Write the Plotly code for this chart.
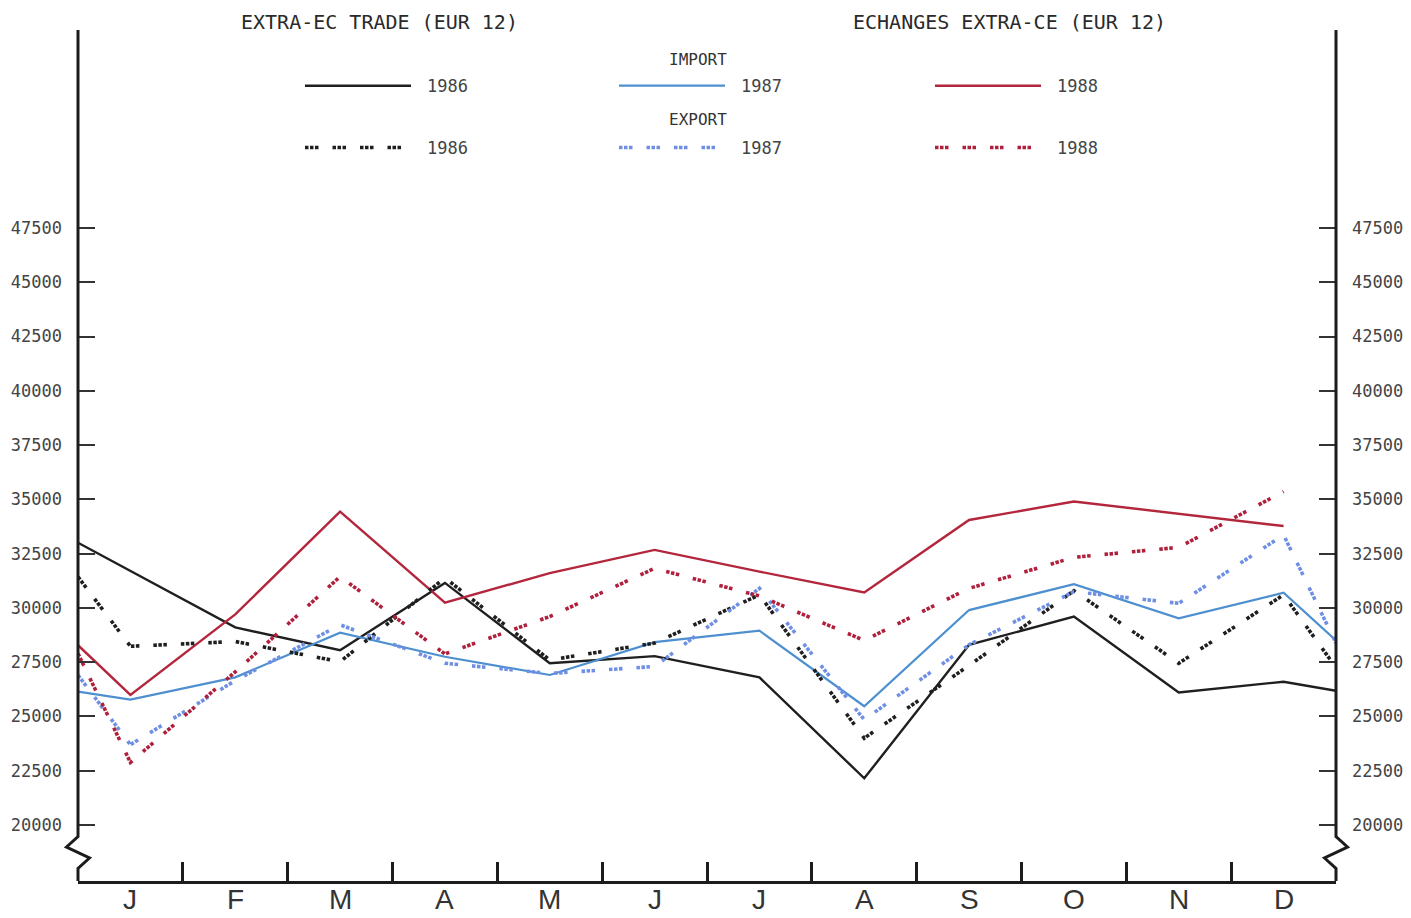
import plotly.graph_objects as go

# ---------------- data ----------------
months = ["J", "F", "M", "A", "M", "J", "J", "A", "S", "O", "N", "D"]
y_ticks = [20000, 22500, 25000, 27500, 30000, 32500, 35000, 37500, 40000, 42500, 45000, 47500]

import_1986 = [31700, 29100, 28050, 31150, 27450, 27780, 26800, 22150, 28300, 29600, 26100, 26600]
import_1986_edges = [33000, 26180]
import_1987 = [25780, 26800, 28860, 27750, 26910, 28420, 28950, 25470, 29900, 31090, 29520, 30700]
import_1987_edges = [26140, 28500]
import_1988 = [25990, 29700, 34430, 30240, 31600, 32670, 31670, 30710, 34050, 34900, 34320, 33770]
import_1988_edges = [28280, None]

export_1986 = [28230, 28450, 27520, 31380, 27600, 28380, 30600, 24000, 27350, 30790, 27450, 30600]
export_1986_edges = [31430, 27250]
export_1987 = [23700, 26650, 29220, 27450, 26980, 27300, 30900, 24850, 28300, 30750, 30210, 33360]
export_1987_edges = [26900, 28380]
export_1988 = [22880, 27050, 31440, 27880, 29600, 31820, 30550, 28500, 30900, 32330, 32790, 35360]
export_1988_edges = [27900, None]

titles = ["EXTRA-EC TRADE (EUR 12)", "ECHANGES EXTRA-CE (EUR 12)"]
group_titles = ["IMPORT", "EXPORT"]
years = ["1986", "1987", "1988"]

# ---------------- styling ----------------
W, H = 1411, 918
PL, PR, PT, PB = 78, 1336, 30, 881          # plot area in pixels
Y0, Y1 = 17420.6, 56617.7                    # y range
MONO = "DejaVu Sans Mono"
AX = "#1c1c1c"
DOT = "3.5px,1.5px,3.5px,1.5px,3.5px,14px"

series = [
    ("IMPORT", 0, import_1986, import_1986_edges, "#1f1f1f", "solid", 2.4),
    ("IMPORT", 1, import_1987, import_1987_edges, "#4d8fcf", "solid", 2.2),
    ("IMPORT", 2, import_1988, import_1988_edges, "#b3263c", "solid", 2.4),
    ("EXPORT", 0, export_1986, export_1986_edges, "#1f1f1f", DOT, 3.6),
    ("EXPORT", 1, export_1987, export_1987_edges, "#6f8fe4", DOT, 3.6),
    ("EXPORT", 2, export_1988, export_1988_edges, "#b01f3c", DOT, 3.6),
]

def pap_x(p):
    return (p - PL) / (PR - PL)

def pap_y(p):
    return (PB - p) / (PB - PT)

fig = go.Figure()

for grp, yi, vals, edges, color, dash, width in series:
    xs = [0] + [i + 0.5 for i in range(len(months))]
    ys = [edges[0]] + list(vals)
    if edges[1] is not None:
        xs.append(len(months))
        ys.append(edges[1])
    fig.add_trace(go.Scatter(
        x=xs, y=ys, mode="lines", name=f"{grp} {years[yi]}",
        line=dict(color=color, width=width, dash=dash), showlegend=False,
        hoverinfo="skip"))

# invisible trace to activate right axis
fig.add_trace(go.Scatter(x=[0], y=[y_ticks[0]], yaxis="y2", mode="markers",
                         marker=dict(opacity=0), showlegend=False, hoverinfo="skip"))

shapes = []
# left & right axis lines with break zigzag (paper coords, so not clipped)
def axis_path(xpx, sgn):
    pts = [
        (xpx, PT),
        (xpx, 836.7),
        (xpx + sgn * 11.5, 847),
        (xpx - sgn * 11.5, 858),
        (xpx, 868.5),
        (xpx, PB),
    ]
    return "M " + " L ".join(f"{pap_x(a)},{pap_y(b)}" for a, b in pts)

shapes.append(dict(type="path", xref="paper", yref="paper", path=axis_path(PL, -1),
                   line=dict(color=AX, width=3)))
shapes.append(dict(type="path", xref="paper", yref="paper", path=axis_path(PR, 1),
                   line=dict(color=AX, width=3)))

annotations = []
# titles
for t, cx in zip(titles, [379, 1009.5]):
    annotations.append(dict(text=t, xref="paper", yref="paper", x=pap_x(cx), y=pap_y(22),
                            showarrow=False, xanchor="center", yanchor="middle",
                            font=dict(family=MONO, size=20, color="#2a2a2a")))

# month labels (centred in each month band, below the axis)
for i, m in enumerate(months):
    annotations.append(dict(text=m, xref="x", yref="paper", x=i + 0.5, y=pap_y(900),
                            showarrow=False, xanchor="center", yanchor="middle",
                            font=dict(family="Liberation Sans", size=28, color="#333")))

# legend (drawn manually, 3 columns x 2 rows)
col_x = [305, 619, 935]
row_y = {"IMPORT": 85.7, "EXPORT": 147.5}
head_y = {"IMPORT": 59, "EXPORT": 120}
sample_len = {"IMPORT": 106, "EXPORT": 98}
for g in group_titles:
    annotations.append(dict(text=g, xref="paper", yref="paper", x=pap_x(698), y=pap_y(head_y[g]),
                            showarrow=False, xanchor="center", yanchor="middle",
                            font=dict(family=MONO, size=16, color="#333")))
for grp, yi, vals, edges, color, dash, width in series:
    x0 = col_x[yi]
    yy = pap_y(row_y[grp])
    shapes.append(dict(type="line", xref="paper", yref="paper", x0=pap_x(x0),
                       x1=pap_x(x0 + sample_len[grp]),
                       y0=yy, y1=yy, line=dict(color=color, width=width, dash=dash)))
    annotations.append(dict(text=years[yi], xref="paper", yref="paper", x=pap_x(x0 + 120), y=yy,
                            showarrow=False, xanchor="left", yanchor="middle",
                            font=dict(family=MONO, size=17, color="#444")))

yaxis_common = dict(range=[Y0, Y1], tickvals=y_ticks, ticktext=[str(v) for v in y_ticks],
                    ticks="inside", ticklen=17, tickwidth=1.5, tickcolor="#333",
                    showgrid=False, zeroline=False, showline=False, automargin=False,
                    tickfont=dict(family=MONO, size=17, color="#444"),
                    ticklabelstandoff=15)

fig.update_layout(
    width=W, height=H,
    margin=dict(l=PL, r=W - PR, t=PT, b=H - PB, pad=0, autoexpand=False),
    paper_bgcolor="white", plot_bgcolor="white",
    xaxis=dict(range=[0, 12], showticklabels=False,
               ticks="", showgrid=False, zeroline=False, automargin=False,
               showline=True, linewidth=3, linecolor=AX,
               minor=dict(tickvals=list(range(1, 12)), ticks="inside", ticklen=19,
                          tickwidth=2.5, tickcolor=AX)),
    yaxis=dict(**yaxis_common, side="left"),
    yaxis2=dict(**yaxis_common, side="right", overlaying="y"),
    shapes=shapes, annotations=annotations,
)

fig.write_html("out.html", config={"displayModeBar": False},
               post_script="document.body.style.margin='0';")
